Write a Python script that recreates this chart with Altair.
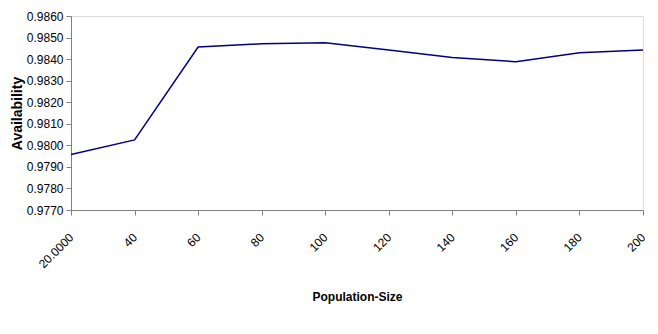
import altair as alt
import pandas as pd

sizes = ["20.0000", "40", "60", "80", "100", "120", "140", "160", "180", "200"]
availability = [0.97957, 0.98025, 0.98456, 0.98471, 0.98476, 0.98442, 0.98408, 0.98388, 0.98430, 0.98442]
y_ticks = [0.9770, 0.9780, 0.9790, 0.9800, 0.9810, 0.9820, 0.9830, 0.9840, 0.9850, 0.9860]

df = pd.DataFrame({"size": sizes, "availability": availability})

font = "Liberation Sans"

chart = alt.Chart(df).mark_line(color="#000080", strokeWidth=1.5).encode(
    x=alt.X("size:O", sort=sizes,
            scale=alt.Scale(type="point", padding=0),
            axis=alt.Axis(title="Population-Size", labelAngle=-45, labelAlign="right",
                          labelBaseline="middle", labelPadding=20,
                          labelFont=font, labelFontSize=12, labelColor="#000000",
                          titleFont=font, titleFontSize=12, titleFontWeight="bold",
                          titleColor="#000000", titlePadding=22,
                          domainColor="#808080", tickColor="#808080", tickSize=5,
                          grid=False)),
    y=alt.Y("availability:Q",
            scale=alt.Scale(domain=[0.9770, 0.9860], nice=False, zero=False),
            axis=alt.Axis(title="Availability", values=y_ticks, format=".4f",
                          labelFont=font, labelFontSize=12, labelColor="#000000",
                          labelPadding=3,
                          titleFont=font, titleFontSize=14, titleFontWeight="bold",
                          titleColor="#000000", titlePadding=2,
                          domainColor="#808080", tickColor="#808080", tickSize=5,
                          grid=False)),
).properties(
    width=572, height=194,
    autosize=alt.AutoSizeParams(type="none"),
    padding={"left": 71, "top": 16, "right": 15, "bottom": 124},
).configure_view(stroke=None).configure(background="white")

chart.save("out.html", embed_options={"renderer": "svg", "actions": False})
